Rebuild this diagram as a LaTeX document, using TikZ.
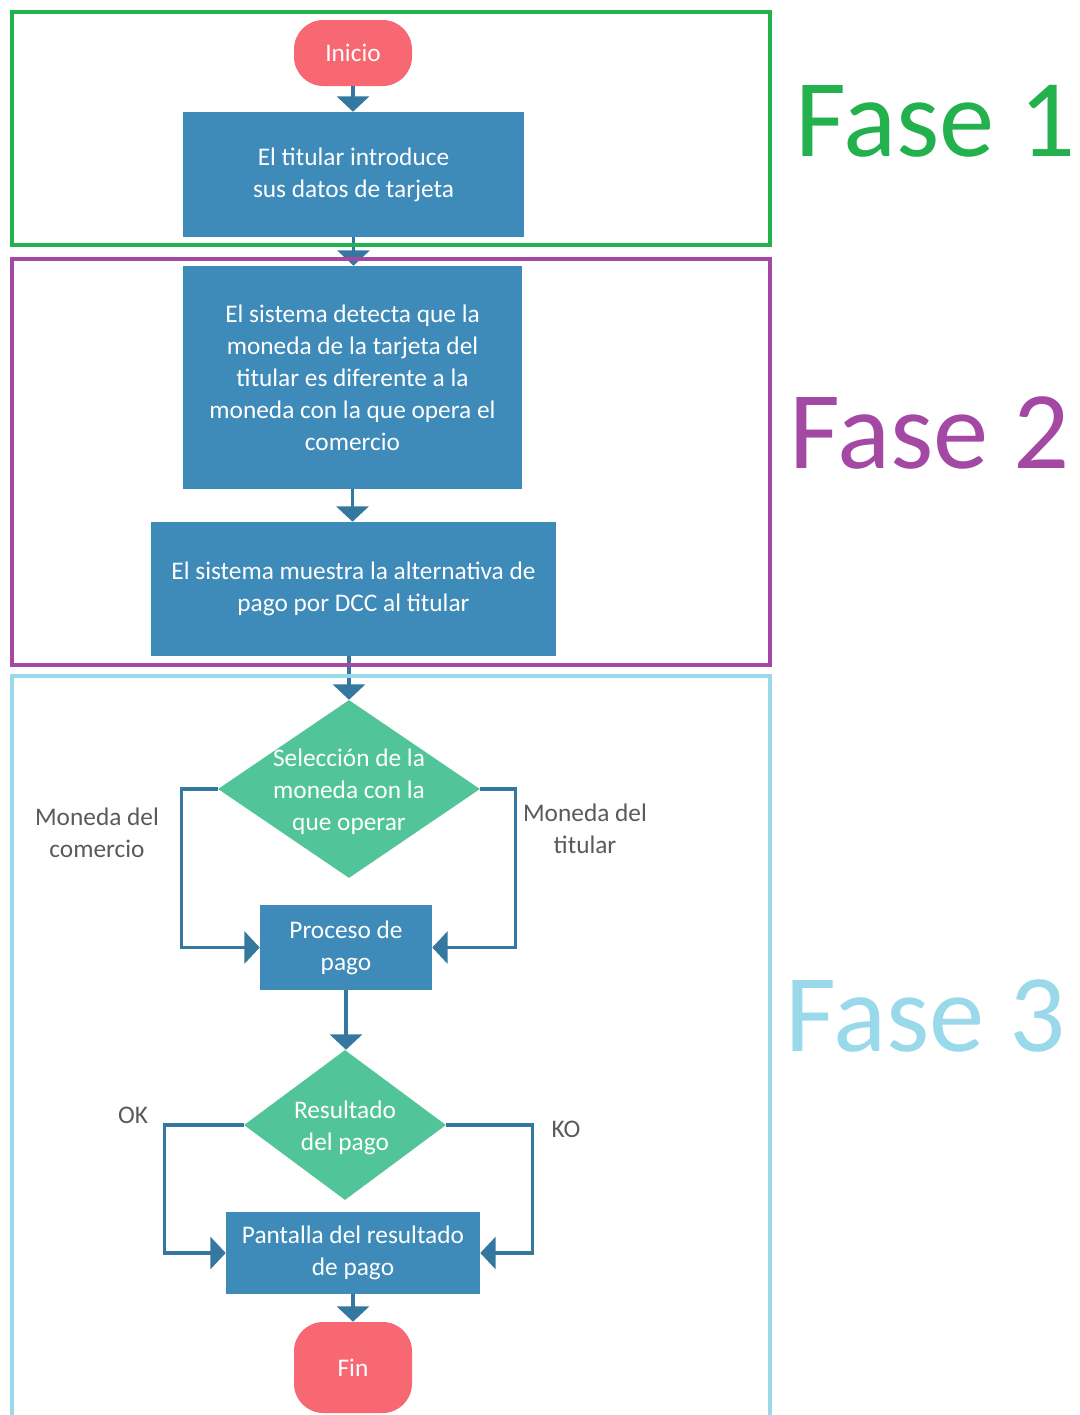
\documentclass[tikz,border=0pt]{standalone}
\usepackage{fontspec}
\setmainfont{Carlito}
\usetikzlibrary{shapes.geometric}
\usetikzlibrary{arrows.meta}

\definecolor{procblue}{HTML}{3E8AB9}
\definecolor{linkblue}{HTML}{35789F}
\definecolor{decgreen}{HTML}{52C49A}
\definecolor{termred}{HTML}{F76873}
\definecolor{fasegreen}{HTML}{22B14C}
\definecolor{fasepurple}{HTML}{A349A4}
\definecolor{fasecyan}{HTML}{99D9EA}
\definecolor{notegrey}{HTML}{5A5A5A}

\tikzset{
  txt/.style={text=white, align=center, font=\fontsize{19}{24}\selectfont},
  proc/.style={txt, rectangle, fill=procblue, inner sep=0pt},
  term/.style={txt, rectangle, fill=termred, rounded corners=22pt, inner sep=0pt, minimum width=88.5pt},
  dec/.style={diamond, fill=decgreen, inner sep=0pt},
  flow/.style={draw=linkblue, line width=2.3pt, -{Triangle[width=24pt,length=11.5pt]}},
  note/.style={text=notegrey, align=center, font=\fontsize{19}{24}\selectfont},
  frame/.style={line width=3pt},
  fase/.style={anchor=west, inner sep=0pt, font=\fontsize{83}{83}\selectfont}
}

\begin{document}
\begin{tikzpicture}[x=0.75pt,y=-0.75pt]
\useasboundingbox (0,0) rectangle (1080,1415);

% pasos
\node[term, minimum height=49.5pt] (inicio) at (353,53) {Inicio};
\node[proc, minimum width=255.75pt, minimum height=93.75pt] (intro) at (353.5,174.5)
  {El titular introduce\\sus datos de tarjeta};
\node[proc, minimum width=254.25pt, minimum height=167.25pt] (detecta) at (352.5,377.5)
  {El sistema detecta que la\\moneda de la tarjeta del\\titular es diferente a la\\moneda con la que opera el\\comercio};
\node[proc, minimum width=303.75pt, minimum height=100.5pt] (muestra) at (353.5,589)
  {El sistema muestra la alternativa de\\pago por DCC al titular};
\node[dec, minimum width=196.5pt, minimum height=133.5pt] (sel) at (349,789) {};
\node[txt] (seltxt) at (349,792) {Selección de la\\moneda con la\\que operar};
\node[proc, minimum width=129pt, minimum height=63.75pt] (proceso) at (346,947.5)
  {Proceso de\\pago};
\node[dec, minimum width=151.5pt, minimum height=112.5pt] (res) at (345,1125) {};
\node[txt] (restxt) at (345,1128) {Resultado\\del pago};
\node[proc, minimum width=190.5pt, minimum height=61.5pt] (pantalla) at (353,1253)
  {Pantalla del resultado\\de pago};
\node[term, minimum height=68.25pt] (fin) at (353,1367.5) {Fin};

% etiquetas
\node[note] (comercio) at (97,833) {Moneda del\\comercio};
\node[note] (titular) at (585,829) {Moneda del\\titular};
\node[note] (ok) at (133,1115) {OK};
\node[note] (ko) at (566,1129) {KO};

% flechas
\draw[flow] (inicio.south) -- (inicio.south |- intro.north);
\draw[flow] (intro.south) -- (intro.south |- detecta.north);
\draw[flow] (detecta.south) -- (detecta.south |- muestra.north);
\draw[flow] (muestra.south -| sel.north) -- (sel.north);
\draw[flow] (sel.west) -- ++(-36,0) |- (proceso.west);
\draw[flow] (sel.east) -- ++(35,0) |- (proceso.east);
\draw[flow] (proceso.south) -- (proceso.south |- res.north);
\draw[flow] (res.west) -- ++(-79,0) |- (pantalla.west);
\draw[flow] (res.east) -- ++(86,0) |- (pantalla.east);
\draw[flow] (pantalla.south) -- (pantalla.south |- fin.north);

% fases
\draw[frame, fasegreen] (12,12) rectangle (770,245);
\draw[frame, fasepurple] (12,259) rectangle (770,665);
\draw[frame, fasecyan] (12,1420) -- (12,676) -- (770,676) -- (770,1420);
\node[fase, text=fasegreen] (fase1) at (795,121) {Fase 1};
\node[fase, text=fasepurple] (fase2) at (789,433) {Fase 2};
\node[fase, text=fasecyan] (fase3) at (785,1016) {Fase 3};
\end{tikzpicture}
\end{document}
